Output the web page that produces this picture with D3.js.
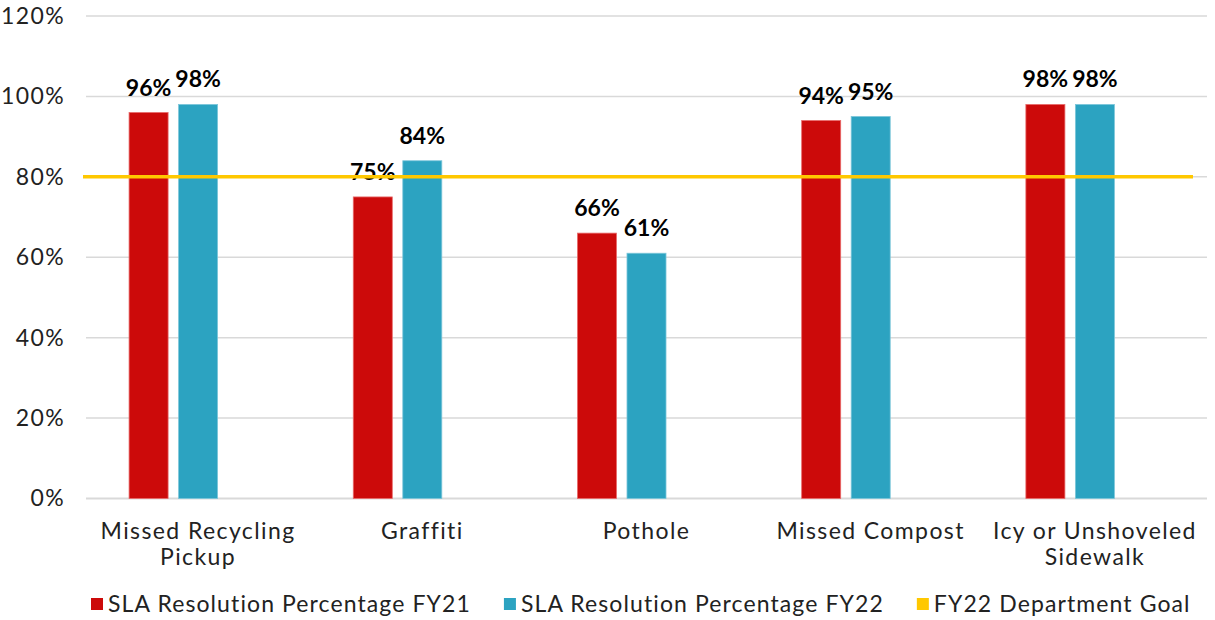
<!DOCTYPE html>
<html>
<head>
<meta charset="utf-8">
<script src="https://cdn.jsdelivr.net/npm/d3@7"></script>
<style>
  body { margin: 0; background: #fff; }
  text { font-family: "Century Gothic", Lato, "Open Sans", sans-serif; fill: #222; }
</style>
</head>
<body>
<svg id="chart" width="1215" height="620"></svg>
<script>
const categories = [
  ['Missed Recycling', 'Pickup'],
  ['Graffiti'],
  ['Pothole'],
  ['Missed Compost'],
  ['Icy or Unshoveled', 'Sidewalk'],
];
const fy21 = [0.96, 0.75, 0.66, 0.94, 0.98];
const fy22 = [0.98, 0.84, 0.61, 0.95, 0.98];
const goal = 0.8;
const yTicks = [0, 0.2, 0.4, 0.6, 0.8, 1.0, 1.2];
const seriesNames = ['SLA Resolution Percentage FY21', 'SLA Resolution Percentage FY22', 'FY22 Department Goal'];
const colors = ['#cc0a0a', '#2ca3c1', '#ffc800'];

const svg = d3.select('#chart');
const plotLeft = 86, plotRight = 1207, plotTop = 16, plotBottom = 498.5;
const spacing = 1.4; // lato is narrower than the century gothic of the original

const x0 = d3.scaleBand()
  .domain(categories.map((c, i) => i))
  .range([plotLeft, plotRight])
  .padding(0);

// three slots per category; the third (goal) stays empty like the excel chart
const x1 = d3.scaleBand()
  .domain([0, 1, 2])
  .range([0, x0.bandwidth()])
  .paddingInner(0.212)
  .paddingOuter(0.87);

const y = d3.scaleLinear().domain([0, 1.2]).range([plotBottom, plotTop]);

// gridlines
svg.append('g')
  .selectAll('line')
  .data(yTicks)
  .join('line')
  .attr('x1', plotLeft)
  .attr('x2', plotRight)
  .attr('y1', (d) => y(d))
  .attr('y2', (d) => y(d))
  .attr('stroke', '#d9d9d9')
  .attr('stroke-width', (d) => (d === 0 ? 2 : 1.5));

// y axis labels
const yAxis = svg.append('g')
  .attr('transform', `translate(${plotLeft},0)`)
  .call(d3.axisLeft(y).tickValues(yTicks).tickFormat(d3.format('.0%')).tickSize(0).tickPadding(21));
yAxis.select('.domain').remove();
yAxis.selectAll('text')
  .attr('font-size', 23)
  .attr('letter-spacing', spacing)
  .attr('font-family', null)
  .attr('fill', '#222');

const table = categories.map((c, i) => ({ i, values: [fy21[i], fy22[i]] }));

const groups = svg.append('g')
  .selectAll('g')
  .data(table)
  .join('g')
  .attr('transform', (d) => `translate(${x0(d.i)},0)`);

groups.selectAll('rect')
  .data((d) => d.values)
  .join('rect')
  .attr('x', (d, k) => x1(k))
  .attr('y', (d) => y(d))
  .attr('width', x1.bandwidth())
  .attr('height', (d) => y(0) - y(d))
  .attr('fill', (d, k) => colors[k])
  .attr('stroke', (d, k) => (k === 0 ? '#e86a6a' : '#7cc6da'))
  .attr('stroke-width', 0.8);

// goal line
svg.append('line')
  .attr('x1', plotLeft - 3)
  .attr('x2', plotRight - 14)
  .attr('y1', y(goal))
  .attr('y2', y(goal))
  .attr('stroke', colors[2])
  .attr('stroke-width', 3.5);

// data labels
groups.selectAll('text.lbl')
  .data((d) => d.values)
  .join('text')
  .attr('class', 'lbl')
  .attr('x', (d, k) => x1(k) + x1.bandwidth() / 2)
  .attr('y', (d) => y(d) - 17)
  .attr('text-anchor', 'middle')
  .attr('font-size', 23)
  .attr('font-weight', 'bold')
  .style('fill', '#000')
  .text((d) => d3.format('.0%')(d));

// category labels
svg.append('g')
  .selectAll('text')
  .data(table)
  .join('text')
  .attr('x', (d) => x0(d.i) + x0.bandwidth() / 2)
  .attr('y', 539)
  .attr('text-anchor', 'middle')
  .attr('font-size', 23)
  .attr('letter-spacing', spacing)
  .selectAll('tspan')
  .data((d) => categories[d.i])
  .join('tspan')
  .attr('x', function () { return this.parentNode.getAttribute('x'); })
  .attr('dy', (d, k) => (k === 0 ? 0 : 26))
  .text((d) => d);

// legend
const legend = svg.append('g').attr('transform', 'translate(91,604)');
let lx = 0;
seriesNames.forEach((name, k) => {
  legend.append('rect')
    .attr('x', lx)
    .attr('y', -6)
    .attr('width', 12)
    .attr('height', 12)
    .attr('fill', colors[k]);
  const t = legend.append('text')
    .attr('x', lx + 17)
    .attr('y', 8)
    .attr('font-size', 23)
    .attr('letter-spacing', 1.1)
    .text(name);
  lx += 17 + t.node().getComputedTextLength() + 33;
});
</script>
</body>
</html>
